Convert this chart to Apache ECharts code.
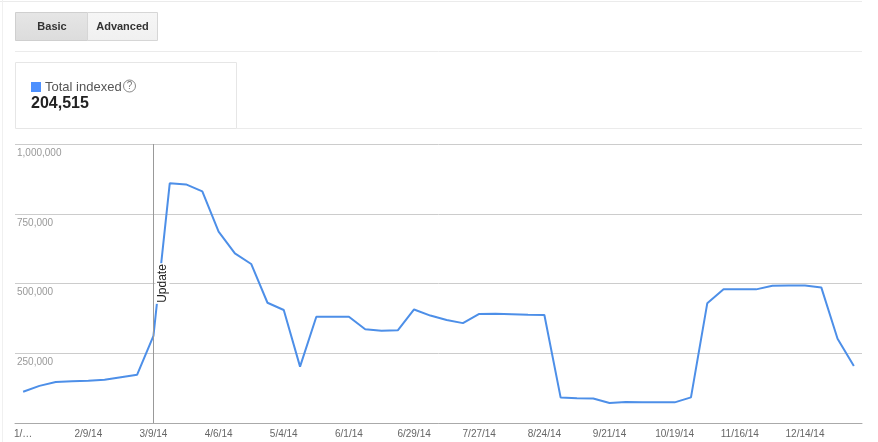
<!DOCTYPE html>
<html>
<head>
<meta charset="utf-8">
<script src="https://cdn.jsdelivr.net/npm/echarts@6/dist/echarts.min.js"></script>
<style>
html,body{margin:0;padding:0;background:#fff;}
#c{width:878px;height:442px;}
</style>
</head>
<body>
<div id="c"></div>
<script>
// Weekly dates (categories)
const dates = ['1/12/14','1/19/14','1/26/14','2/2/14','2/9/14','2/16/14','2/23/14','3/2/14','3/9/14','3/16/14',
  '3/23/14','3/30/14','4/6/14','4/13/14','4/20/14','4/27/14','5/4/14','5/11/14','5/18/14','5/25/14',
  '6/1/14','6/8/14','6/15/14','6/22/14','6/29/14','7/6/14','7/13/14','7/20/14','7/27/14','8/3/14',
  '8/10/14','8/17/14','8/24/14','8/31/14','9/7/14','9/14/14','9/21/14','9/28/14','10/5/14','10/12/14',
  '10/19/14','10/26/14','11/2/14','11/9/14','11/16/14','11/23/14','11/30/14','12/7/14','12/14/14','12/21/14',
  '12/28/14','1/4/15'];
// Total indexed values
const totalIndexed = [112000,133000,147000,150000,151000,155000,164000,173000,312000,859000,
  855000,830000,686000,608000,570000,431000,405000,202000,381000,381000,
  381000,336000,331000,332000,407000,385000,369000,358000,391000,392000,
  390000,388000,387000,91000,89000,88000,72000,75000,74000,74000,
  74000,92000,429000,479000,479000,479000,492000,493000,493000,486000,
  302000,204515];
const yTicks = [0, 250000, 500000, 750000, 1000000];
const annotationDate = '3/9/14';
const annotationText = 'Update';
const summaryLabel = 'Total indexed';
const summaryValue = '204,515';

const chart = echarts.init(document.getElementById('c'), null, {renderer:'canvas'});
const FONT = 'Arial, "Liberation Sans", sans-serif';

chart.setOption({
  animation:false,
  backgroundColor:'#fff',
  grid:{left:15,right:16,top:144,bottom:19,containLabel:false},
  xAxis:{
    type:'category',
    data:dates,
    boundaryGap:true,
    axisLine:{lineStyle:{color:'#aaa',width:1}},
    axisTick:{show:false},
    splitLine:{show:false},
    axisLabel:{
      interval:function(i){return i%4===0;},
      color:'#666',fontSize:10,fontFamily:FONT,margin:6,
      formatter:function(v,i){return i===0 ? v.slice(0,2)+'\u2026' : v;}
    }
  },
  yAxis:{
    type:'value',
    min:yTicks[0],max:yTicks[yTicks.length-1],interval:yTicks[1]-yTicks[0],
    axisLine:{show:false},axisTick:{show:false},
    splitLine:{lineStyle:{color:'#ccc',width:1}},
    axisLabel:{
      inside:true,showMinLabel:false,margin:2,
      color:'#999',fontSize:10,fontFamily:FONT,
      verticalAlign:'top',padding:[4,0,0,0],
      formatter:function(v){return v.toLocaleString('en-US');}
    }
  },
  series:[{
    type:'line',
    data:totalIndexed,
    symbol:'none',
    lineStyle:{color:'#4d8fe8',width:2},
    itemStyle:{color:'#4d8fe8'},
    z:2,
    markLine:{
      silent:true,
      symbol:['none','none'],
      z:5,
      lineStyle:{color:'#999',width:1,type:'solid'},
      label:{
        show:true,position:'insideMiddleBottom',formatter:annotationText,
        color:'#222',fontSize:12,fontFamily:FONT,
        backgroundColor:'#fff',padding:[1,1,1,1],distance:2
      },
      data:[{xAxis:annotationDate}]
    }
  }],
  graphic:[
    {type:'line',shape:{x1:0,y1:1.5,x2:862,y2:1.5},style:{stroke:'#ebebeb',lineWidth:1},silent:true},
    {type:'line',shape:{x1:2.5,y1:0,x2:2.5,y2:442},style:{stroke:'#f0f0f0',lineWidth:1},silent:true},
    // buttons
    {type:'rect',shape:{x:15.5,y:12.5,width:72,height:28},
      style:{fill:new echarts.graphic.LinearGradient(0,0,0,1,[{offset:0,color:'#e6e6e6'},{offset:1,color:'#dcdcdc'}]),stroke:'#cfcfcf',lineWidth:1},silent:true},
    {type:'rect',shape:{x:87.5,y:12.5,width:70,height:28},
      style:{fill:new echarts.graphic.LinearGradient(0,0,0,1,[{offset:0,color:'#f6f6f6'},{offset:1,color:'#f0f0f0'}]),stroke:'#d6d6d6',lineWidth:1},silent:true},
    {type:'text',x:52,y:26.5,style:{text:'Basic',fill:'#333',font:'bold 11px '+FONT,align:'center',verticalAlign:'middle'},silent:true},
    {type:'text',x:122.5,y:26.5,style:{text:'Advanced',fill:'#333',font:'bold 11px '+FONT,align:'center',verticalAlign:'middle'},silent:true},
    {type:'line',shape:{x1:15,y1:51.5,x2:862,y2:51.5},style:{stroke:'#ebebeb',lineWidth:1},silent:true},
    // summary box
    {type:'rect',shape:{x:15.5,y:62.5,width:221,height:66},style:{fill:'#fff',stroke:'#e6e6e6',lineWidth:1},silent:true},
    {type:'line',shape:{x1:236,y1:128.5,x2:862,y2:128.5},style:{stroke:'#ebebeb',lineWidth:1},silent:true},
    {type:'rect',shape:{x:31,y:82,width:10,height:10},style:{fill:'#4d90fe'},silent:true},
    {type:'text',x:45,y:87.5,style:{text:summaryLabel,fill:'#555',font:'13px '+FONT,align:'left',verticalAlign:'middle'},silent:true},
    {type:'circle',shape:{cx:129.5,cy:86,r:6},style:{fill:'none',stroke:'#888',lineWidth:1},silent:true},
    {type:'text',x:129.5,y:86.5,style:{text:'?',fill:'#777',font:'10px '+FONT,align:'center',verticalAlign:'middle'},silent:true},
    {type:'text',x:31,y:103.5,style:{text:summaryValue,fill:'#222',font:'bold 16px '+FONT,align:'left',verticalAlign:'middle'},silent:true}
  ]
});
</script>
</body>
</html>
